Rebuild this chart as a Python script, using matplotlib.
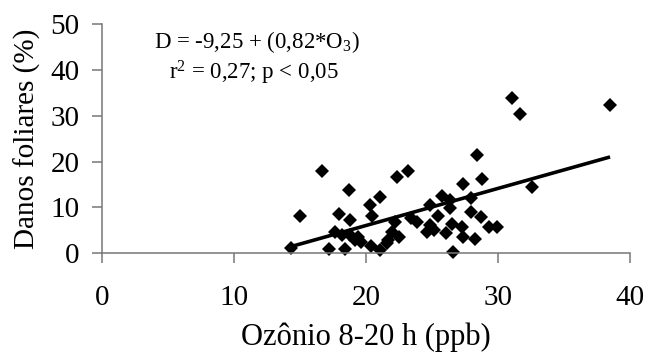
import matplotlib
matplotlib.use('Agg')
import matplotlib.pyplot as plt

# ozone (ppb) vs leaf damage (%)
ozonio = [14.3, 15.0, 16.7, 17.2, 17.7, 18.0, 18.2, 18.4, 18.7, 18.8, 18.8, 19.2,
          19.4, 19.6, 20.3, 20.5, 20.4, 21.1, 21.1, 21.6, 21.7, 22.0, 22.2, 22.5,
          22.4, 23.2, 23.4, 23.9, 24.6, 24.9, 24.9, 25.2, 25.5, 25.8, 26.4, 26.4,
          26.1, 26.5, 26.6, 27.3, 27.4, 27.4, 28.0, 28.0, 28.3, 28.7, 28.4, 28.8,
          29.3, 29.9, 31.1, 31.7, 32.6, 38.5]
danos = [1.1, 8.0, 18.0, 1.0, 4.7, 8.5, 3.9, 1.0, 13.7, 7.2, 3.9, 2.8,
         3.6, 2.5, 10.4, 8.0, 1.6, 0.7, 12.2, 2.1, 2.8, 4.7, 6.8, 3.6,
         16.7, 18.0, 7.6, 6.8, 4.7, 10.6, 6.1, 5.0, 8.1, 12.5, 11.6, 9.8,
         4.3, 6.3, 0.2, 5.8, 3.6, 15.0, 12.1, 8.9, 3.1, 7.9, 21.5, 16.2,
         5.8, 5.8, 33.8, 30.3, 14.5, 32.4]

# regression line end points as drawn
linha_x = [14.3, 38.5]
linha_y = [1.4, 21.0]

xticks = [0, 10, 20, 30, 40]
yticks = [0, 10, 20, 30, 40, 50]

plt.rcParams['font.family'] = ['Liberation Serif', 'DejaVu Serif']
plt.rcParams['mathtext.fontset'] = 'custom'
plt.rcParams['mathtext.rm'] = 'Liberation Serif'
plt.rcParams['mathtext.it'] = 'Liberation Serif:italic'

fig = plt.figure(figsize=(6.48, 3.55), dpi=100)
ax = fig.add_axes([0.157, 0.287, 0.815, 0.645])

ax.plot(ozonio, danos, 'D', color='black', markersize=7.5, markeredgewidth=0, clip_on=False)
ax.plot(linha_x, linha_y, color='black', linewidth=2.6, solid_capstyle='butt')

ax.set_xlim(0, 40)
ax.set_ylim(0, 50)
ax.set_xticks(xticks)
ax.set_yticks(yticks)
ax.tick_params(direction='out', length=7, width=1.1, color='#777777', labelsize=21)
ax.tick_params(axis='x', pad=16)
ax.tick_params(axis='y', pad=9)

for s in ['top', 'right']:
    ax.spines[s].set_visible(False)
for s in ['left', 'bottom']:
    ax.spines[s].set_color('#777777')
    ax.spines[s].set_linewidth(1.1)

ax.set_xlabel('Ozônio 8-20 h (ppb)', fontsize=22, labelpad=8)
ax.set_ylabel('Danos foliares (%)', fontsize=21, labelpad=7)

ax.text(0.294, 0.92, r'D = -9,25 + (0,82*O$_{\mathrm{3}}$)', transform=ax.transAxes,
        fontsize=16.5, ha='center', va='center')
ax.text(0.288, 0.785, r'r$^{\mathrm{2}}$ = 0,27; p < 0,05', transform=ax.transAxes,
        fontsize=16.5, ha='center', va='center')

fig.savefig('out.png', dpi=100)
